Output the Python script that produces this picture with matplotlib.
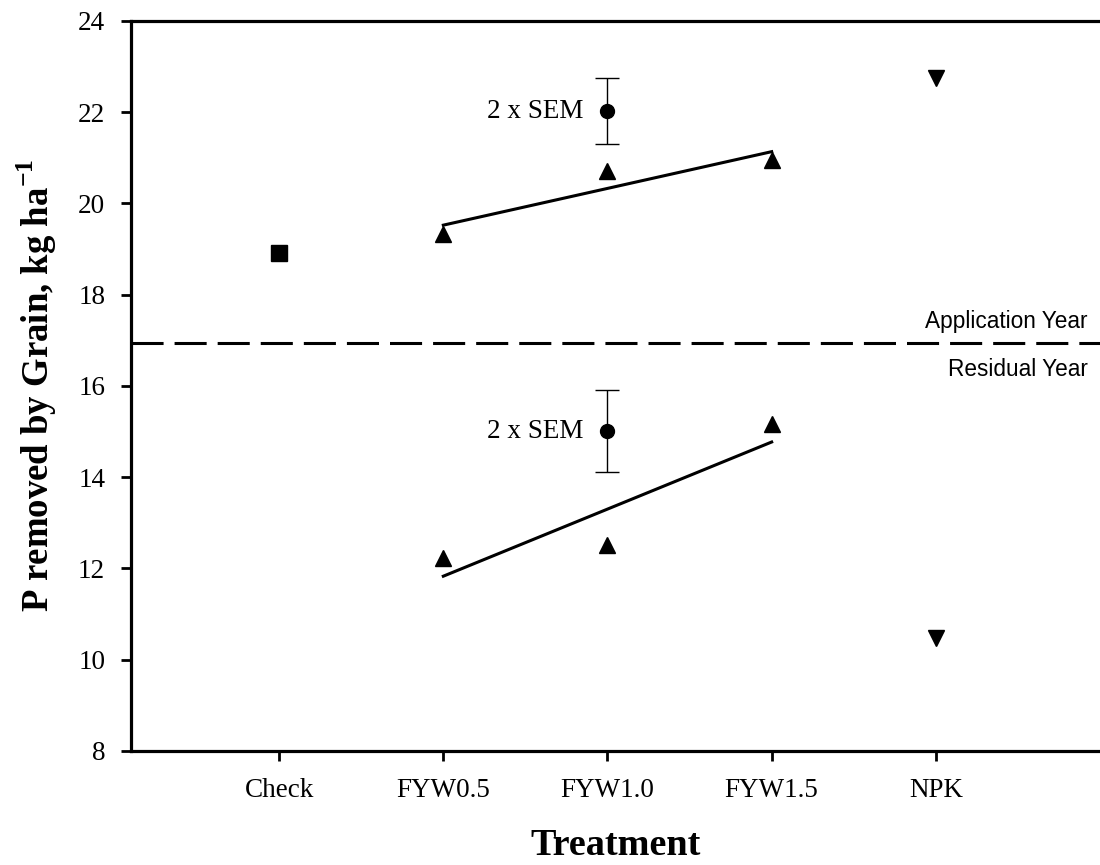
import numpy as np
import matplotlib
matplotlib.use('Agg')
import matplotlib.pyplot as plt

plt.rcParams['font.family'] = 'Liberation Serif'
plt.rcParams['mathtext.fontset'] = 'custom'
plt.rcParams['mathtext.rm'] = 'Liberation Serif'
plt.rcParams['mathtext.bf'] = 'Liberation Serif:bold'

treatments = ['Check', 'FYW0.5', 'FYW1.0', 'FYW1.5', 'NPK']
fyw_rate = [0.5, 1.0, 1.5]

# application year (upper panel)
check_app = 18.92
fyw_app = [19.33, 20.71, 20.94]
npk_app = 22.75
sem_app = 22.02
sem_app_err = 0.73

# residual year (lower panel)
fyw_res = [12.22, 12.52, 15.16]
npk_res = 10.48
sem_res = 15.01
sem_res_err = 0.89

divider = 16.94

fig = plt.figure(figsize=(11, 8.65), dpi=100)
ax = fig.add_axes([0.119, 0.1318, 0.881, 0.8442])

xpos = np.arange(1, len(treatments) + 1)
xf = xpos[1:4]

# Check
ax.plot(xpos[0], check_app, 's', color='black', ms=11.3)

# FYW triangles + fitted lines
for vals in (fyw_app, fyw_res):
    ax.plot(xf, vals, '^', color='black', ms=11.5)
    b = np.polyfit(fyw_rate, vals, 1)
    ax.plot([xf[0], xf[-1]], np.polyval(b, [fyw_rate[0], fyw_rate[-1]]),
            color='black', lw=2.2)

# NPK
ax.plot([xpos[4], xpos[4]], [npk_app, npk_res], 'v', color='black', ms=11.5)

# SEM bars
for yv, err in ((sem_app, sem_app_err), (sem_res, sem_res_err)):
    ax.errorbar(xpos[2], yv, yerr=err, fmt='o', color='black', ms=10,
                elinewidth=1, capsize=8.5, capthick=1)
    ax.annotate('2 x SEM', (xpos[2], yv), xytext=(-17, 0), textcoords='offset points',
                ha='right', va='center', fontsize=19.5)

ax.axhline(divider, color='black', lw=2.2, dashes=(10.5, 3.6))
ax.text(5.925, 17.40, 'Application Year', ha='right', va='center',
        fontsize=16.3, family='Liberation Sans')
ax.text(5.925, 16.35, 'Residual Year', ha='right', va='center',
        fontsize=16.3, family='Liberation Sans')

ax.set_xlim(0.097, 6.0)
ax.set_ylim(8, 24)
ax.set_yticks(np.arange(8, 25, 2))
ax.set_xticks(xpos)
ax.set_xticklabels(treatments)

for s in ('left', 'bottom', 'top'):
    ax.spines[s].set_linewidth(2.3)
ax.spines['right'].set_visible(False)
ax.tick_params(axis='both', direction='out', length=7.5, width=2, labelsize=19.5)
ax.tick_params(axis='y', pad=11)
ax.tick_params(axis='x', pad=12)
ax.tick_params(top=False, right=False)

ax.set_xlabel('Treatment', fontsize=27.5, fontweight='bold', labelpad=18)
ax.set_ylabel(r'P removed by Grain, kg ha$^{\mathbf{-1}}$', fontsize=26.5,
              fontweight='bold', labelpad=14)

fig.savefig('out.png', dpi=100, facecolor='white')
